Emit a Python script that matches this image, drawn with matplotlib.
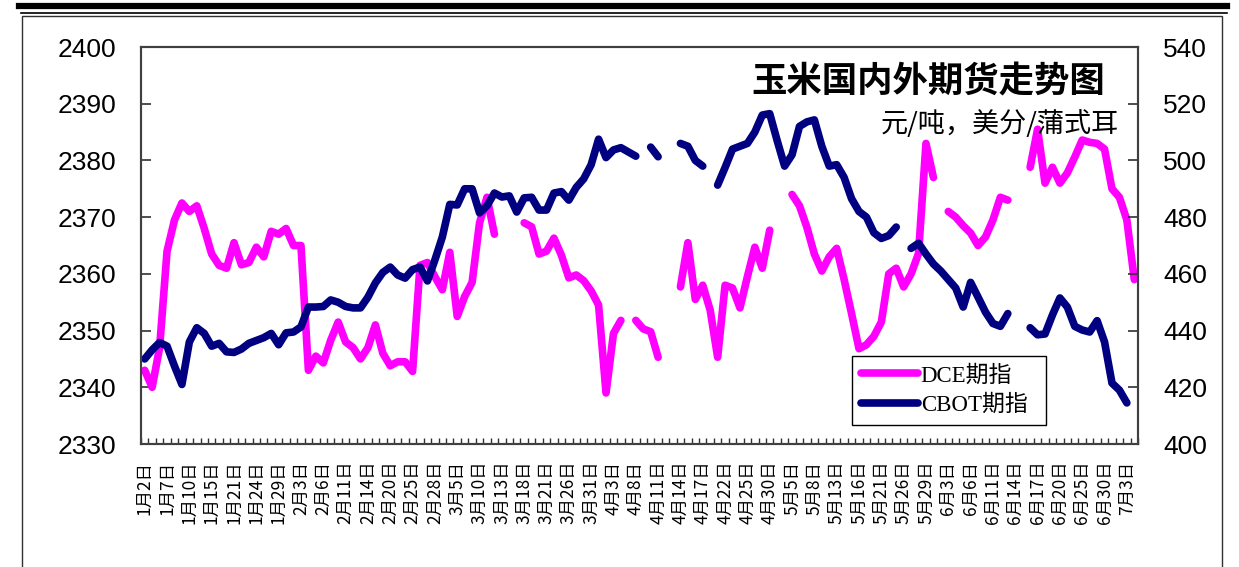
import numpy as np
import matplotlib
matplotlib.use("Agg")
import matplotlib.pyplot as plt
from matplotlib.lines import Line2D
from matplotlib.patches import Rectangle

plt.rcParams['font.family'] = ['Liberation Sans', 'Noto Sans CJK SC', 'DejaVu Sans']

nan = np.nan

# 每3个交易日一个标签
tick_labels = ["1月2日", "1月7日", "1月10日", "1月15日", "1月21日", "1月24日", "1月29日",
               "2月3日", "2月6日", "2月11日", "2月14日", "2月20日", "2月25日", "2月28日",
               "3月5日", "3月10日", "3月13日", "3月18日", "3月21日", "3月26日", "3月31日",
               "4月3日", "4月8日", "4月11日", "4月14日", "4月17日", "4月22日", "4月25日", "4月30日",
               "5月5日", "5月8日", "5月13日", "5月16日", "5月21日", "5月26日", "5月29日",
               "6月3日", "6月6日", "6月11日", "6月14日", "6月17日", "6月20日", "6月25日", "6月30日",
               "7月3日"]

# DCE期指 (元/吨), 左轴
dce = [2343, 2340, 2347, 2364, 2369.5, 2372.5, 2371, 2372, 2368, 2363.5,
       2361.5, 2361, 2365.5, 2361.6, 2362, 2364.7, 2363, 2367.5, 2367, 2368,
       2365, 2365, 2343, 2345.5, 2344.3, 2348.3, 2351.5, 2348, 2347, 2345,
       2347, 2351, 2346, 2343.8, 2344.5, 2344.5, 2342.8, 2361.5, 2362, 2359.5,
       2357.2, 2363.8, 2352.5, 2356, 2358.5, 2369, 2373.5, 2367, nan, nan,
       nan, 2369, 2368.3, 2363.5, 2364, 2366.3, 2363.3, 2359.3, 2359.8, 2358.8,
       2357, 2354.5, 2339, 2349.5, 2351.8, nan, 2351.8, 2350.3, 2349.8, 2345.3,
       nan, nan, 2357.7, 2365.5, 2355.5, 2358, 2353.6, 2345.3, 2358, 2357.5,
       2354, 2359.5, 2364.7, 2361, 2367.7, nan, nan, 2374, 2372, 2368.2,
       2363.5, 2360.5, 2363, 2364.5, 2359, 2353, 2346.8, 2347.5, 2349, 2351.5,
       2360, 2361, 2357.7, 2360, 2363.6, 2383, 2377, nan, 2371, 2370,
       2368.5, 2367.2, 2365, 2366.5, 2369.5, 2373.5, 2373, nan, nan, 2378.8,
       2385.5, 2376, 2378.8, 2376, 2377.8, 2380.6, 2383.6, 2383.2, 2383, 2382,
       2375, 2373.5, 2369.5, 2359]

# CBOT期指 (美分/蒲式耳), 右轴
cbot = [430, 433.2, 435.8, 434.5, 427.5, 421, 436, 441, 439, 434.5,
        435.5, 432.5, 432.3, 433.5, 435.5, 436.5, 437.5, 439, 435, 439.2,
        439.5, 441.3, 448.3, 448.3, 448.5, 450.8, 450, 448.5, 448, 448,
        451.8, 456.8, 460.5, 462.4, 459.6, 458.5, 461.5, 462.4, 457.5, 464.9,
        473, 484.5, 484.3, 490, 490, 481.5, 484, 488.5, 487.1, 487.5,
        481.8, 486.8, 487, 482.5, 482.5, 488.5, 489, 486, 490.5, 493.5,
        498.5, 507.5, 501, 503.7, 504.5, 503, 501.5, nan, 504.7, 501.3,
        nan, nan, 506, 505, 500, 498, nan, 491.3, 497.5, 504,
        505, 506, 510, 516, 516.5, 507, 498, 502, 512, 513.6,
        514.3, 505, 498, 498.5, 494, 486.5, 482, 480, 474.5, 472.5,
        473.5, 476.5, nan, 469, 470.8, 467, 463.5, 461, 458, 455,
        448.3, 457, 451.8, 446.5, 442.5, 441.5, 446, nan, nan, 441,
        438.5, 438.8, 445.5, 451.5, 448.3, 441.5, 440.2, 439.5, 443.5, 436,
        421.5, 419, 414.5, nan]

n = len(dce)
x = np.arange(n)

fig = plt.figure(figsize=(12.39, 5.67), dpi=100)
ax = fig.add_axes([0.1138, 0.2169, 0.8047, 0.7002])
ax2 = ax.twinx()

l1, = ax.plot(x, dce, color='#FF00FF', lw=5.5, solid_capstyle='round', solid_joinstyle='round')
l2, = ax2.plot(x, cbot, color='#000080', lw=5.5, solid_capstyle='round', solid_joinstyle='round')

ax.set_xlim(-0.5, n - 0.5)
ax.set_ylim(2330, 2400)
ax.set_yticks(np.arange(2330, 2401, 10))
ax2.set_ylim(400, 540)
ax2.set_yticks(np.arange(400, 541, 20))

ax.set_xticks(np.arange(0, n, 3))
ax.set_xticklabels(tick_labels, rotation=90, fontsize=12.5, family=['Noto Sans CJK SC'])
ax.set_xticks(np.arange(-0.5, n, 1), minor=True)
ax.tick_params(axis='x', which='major', length=0, pad=12)
ax.tick_params(axis='x', which='minor', direction='in', length=4, width=1, color='#303030')
ax.tick_params(axis='y', direction='in', length=7, width=1.2, labelsize=19, pad=18, color='#303030')
ax2.tick_params(axis='y', direction='in', length=7, width=1.2, labelsize=19, pad=18, color='#303030')
ax2.tick_params(axis='x', which='both', length=0)

for a in (ax, ax2):
    for s in a.spines.values():
        s.set_color('#404040')
        s.set_linewidth(1.5)

# 标题
ax2.text(0.79, 0.915, "玉米国内外期货走势图", transform=ax2.transAxes, ha='center', va='center',
         fontsize=25.5, fontweight='bold', family=['Noto Sans CJK SC'], zorder=5)
ax2.text(0.861, 0.805, "元/吨，美分/蒲式耳", transform=ax2.transAxes, ha='center', va='center',
         fontsize=19.5, family=['Noto Sans CJK SC'], zorder=5)

leg = ax2.legend([l1, l2], ["DCE期指", "CBOT期指"], loc='lower left',
                 bbox_to_anchor=(0.713, 0.048, 0.195, 0.186), mode='expand',
                 borderaxespad=0, fancybox=False, framealpha=1, edgecolor='black',
                 handlelength=2.5, handletextpad=0.1, borderpad=0.4, labelspacing=0.35,
                 prop={'family': ['Liberation Serif', 'Noto Sans CJK SC'], 'size': 16.5})
leg.get_frame().set_linewidth(1.0)

# 页眉双线和外框
fig.add_artist(Line2D([0.015, 0.99], [0.9894, 0.9894], color='black', lw=4.5))
fig.add_artist(Line2D([0.017, 0.99], [0.9765, 0.9765], color='black', lw=1.2))
fig.add_artist(Rectangle((0.0178, -0.05), 0.9685, 1.021, fill=False, edgecolor='#303030', lw=1.0))

fig.savefig("out.png", dpi=100)
